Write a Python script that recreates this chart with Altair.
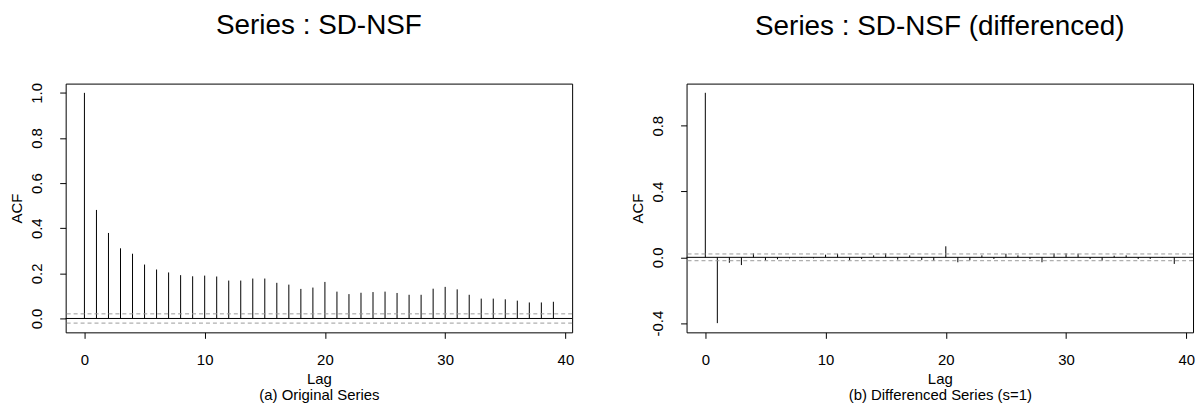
import altair as alt
import pandas as pd

# ---- data ----
lags = list(range(40))
acf_original = [1.000, 0.481, 0.379, 0.311, 0.287, 0.239, 0.217, 0.204, 0.192, 0.187,
                0.190, 0.186, 0.168, 0.168, 0.177, 0.177, 0.158, 0.150, 0.131, 0.137,
                0.162, 0.119, 0.108, 0.114, 0.117, 0.119, 0.113, 0.105, 0.105, 0.132,
                0.140, 0.129, 0.105, 0.088, 0.088, 0.085, 0.079, 0.071, 0.071, 0.074]
acf_diff = [1.000, -0.400, -0.033, -0.047, 0.024, -0.020, -0.012, -0.006, -0.004, -0.006,
            0.016, 0.022, -0.018, -0.010, 0.012, 0.024, -0.014, 0.012, -0.016, -0.020,
            0.067, -0.030, -0.018, 0.012, -0.010, 0.022, 0.012, -0.010, -0.030, 0.024,
            0.024, 0.022, -0.010, -0.020, 0.010, 0.012, -0.010, -0.010, -0.004, -0.040]
ci_original = 0.0205
ci_diff = 0.0205
x_ticks = [0, 10, 20, 30, 40]
y_ticks_left = [0.0, 0.2, 0.4, 0.6, 0.8, 1.0]
y_ticks_right = [-0.4, -0.2, 0.0, 0.2, 0.4, 0.6, 0.8, 1.0]

FONT = "Liberation Sans"
W, H = 509, 250


def panel(values, ci, ydom, yticks, title, subtitle, label_expr):
    df = pd.DataFrame({"lag": lags, "acf": values, "base": [0.0] * len(lags)})
    xs = alt.Scale(domain=[-1.56, 40.56], nice=False, zero=False)
    ys = alt.Scale(domain=ydom, nice=False, zero=False)
    xaxis = alt.Axis(values=x_ticks, title=["Lag", subtitle], grid=False, domain=False,
                     tickSize=6, tickColor="black", labelFontSize=15, labelPadding=14,
                     titleFontSize=15, titleFontWeight="normal", titleLineHeight=16,
                     titlePadding=4, labelFont=FONT, titleFont=FONT, labelColor="black",
                     titleColor="black", format="d", labelFlush=False)
    yaxis = alt.Axis(values=yticks, title="ACF", grid=False, domain=False,
                     tickSize=6, tickColor="black", labelFontSize=15, labelPadding=15,
                     labelAngle=270, labelAlign="center", labelBaseline="bottom",
                     labelExpr=label_expr, titleFontSize=15, titleFontWeight="normal",
                     titlePadding=5, labelFont=FONT, titleFont=FONT, labelColor="black",
                     titleColor="black", labelFlush=False)
    spikes = alt.Chart(df).mark_rule(color="black", strokeWidth=1).encode(
        x=alt.X("lag:Q", scale=xs, axis=xaxis),
        y=alt.Y("acf:Q", scale=ys, axis=yaxis),
        y2="base:Q",
    )
    zero = alt.Chart(pd.DataFrame({"v": [0.0]})).mark_rule(color="black", strokeWidth=1).encode(
        y=alt.Y("v:Q", scale=ys)
    )
    bands = alt.Chart(pd.DataFrame({"v": [ci, -ci]})).mark_rule(
        color="#9a9a9a", strokeWidth=1, strokeDash=[4, 3]
    ).encode(y=alt.Y("v:Q", scale=ys))
    return alt.layer(spikes, zero, bands).properties(
        width=W, height=H,
        title=alt.TitleParams(title, fontSize=28, fontWeight="normal", font=FONT,
                              color="black", anchor="middle", baseline="alphabetic",
                              offset=21),
    )


left_expr = "replace(format(datum.value, '.1f'), '\u2212', '-')"
right_expr = ("round(datum.value*10) % 4 == 0 ? "
              "replace(format(datum.value, '.1f'), '\u2212', '-') : ''")

left = panel(acf_original, ci_original, [-0.0615, 1.041], y_ticks_left,
             "Series : SD-NSF", "(a) Original Series", left_expr)
right = panel(acf_diff, ci_diff, [-0.456, 1.056], y_ticks_right,
              "Series : SD-NSF (differenced)", "(b) Differenced Series (s=1)", right_expr)

chart = alt.hconcat(left, right, spacing=55).configure(
    background="white"
).configure_view(
    stroke="black", strokeWidth=1
).properties(padding={"left": 9, "top": 10, "right": 2, "bottom": 2})

chart.save("out.html", embed_options={"renderer": "svg", "actions": False})
